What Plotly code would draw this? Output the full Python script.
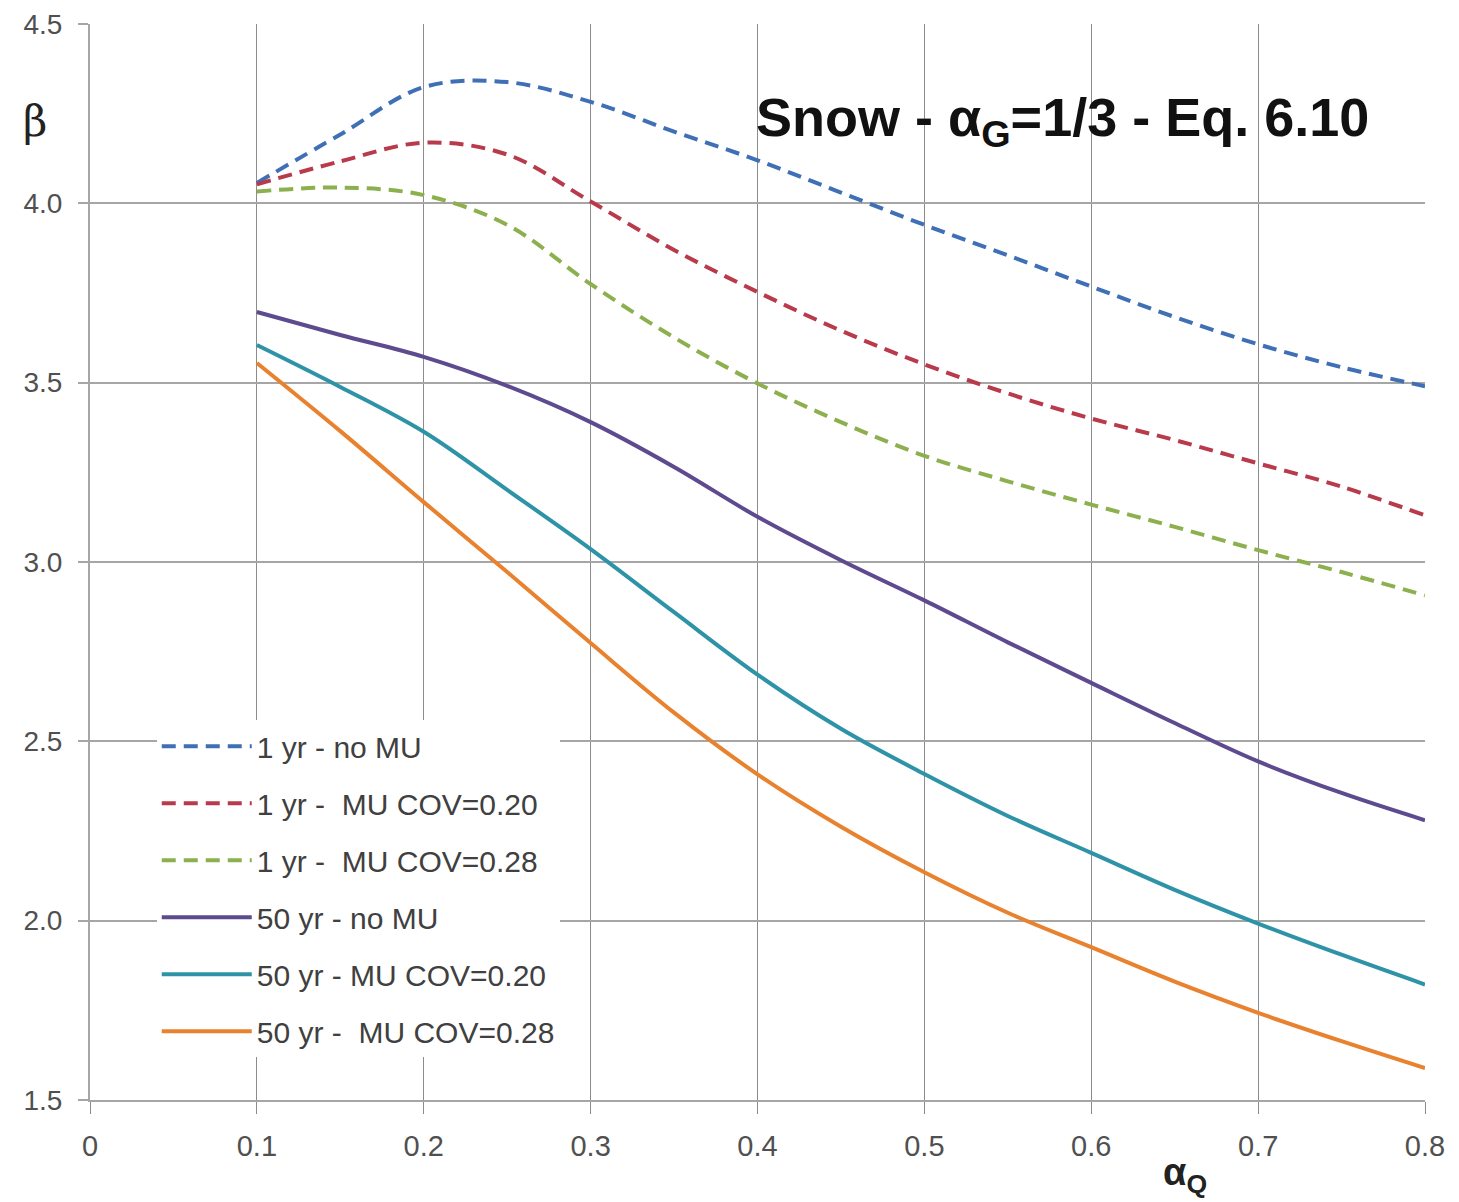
import plotly.graph_objects as go

alpha_q = [0.1, 0.15, 0.2, 0.25, 0.3, 0.35, 0.4, 0.45, 0.5, 0.55, 0.6, 0.65, 0.7, 0.75, 0.8]

beta_1yr_no_mu = [4.057, 4.192, 4.324, 4.338, 4.283, 4.200, 4.120, 4.030, 3.940, 3.855, 3.768, 3.683, 3.607, 3.543, 3.490]
beta_1yr_mu020 = [4.053, 4.117, 4.169, 4.136, 4.005, 3.870, 3.753, 3.645, 3.551, 3.470, 3.400, 3.340, 3.275, 3.210, 3.130]
beta_1yr_mu028 = [4.033, 4.044, 4.023, 3.940, 3.775, 3.626, 3.498, 3.390, 3.296, 3.225, 3.160, 3.098, 3.033, 2.972, 2.907]
beta_50yr_no_mu = [3.697, 3.633, 3.572, 3.491, 3.390, 3.265, 3.126, 3.005, 2.893, 2.776, 2.663, 2.551, 2.444, 2.356, 2.280]
beta_50yr_mu020 = [3.605, 3.488, 3.363, 3.201, 3.036, 2.860, 2.686, 2.535, 2.409, 2.292, 2.189, 2.086, 1.992, 1.905, 1.822]
beta_50yr_mu028 = [3.555, 3.365, 3.167, 2.972, 2.774, 2.580, 2.408, 2.262, 2.135, 2.022, 1.926, 1.830, 1.743, 1.664, 1.589]

series_names = ["1 yr - no MU", "1 yr -  MU COV=0.20", "1 yr -  MU COV=0.28",
                "50 yr - no MU", "50 yr - MU COV=0.20", "50 yr -  MU COV=0.28"]
series_values = [beta_1yr_no_mu, beta_1yr_mu020, beta_1yr_mu028,
                 beta_50yr_no_mu, beta_50yr_mu020, beta_50yr_mu028]
series_colors = ["#3f6fb5", "#b83a4b", "#8db04f", "#5e4a8e", "#2f93a8", "#e8822e"]
series_dash = ["14px,8px", "14px,8px", "14px,8px", "solid", "solid", "solid"]

x_tick_vals = [0, 0.1, 0.2, 0.3, 0.4, 0.5, 0.6, 0.7, 0.8]
x_tick_text = ["0", "0.1", "0.2", "0.3", "0.4", "0.5", "0.6", "0.7", "0.8"]
y_tick_vals = [1.5, 2.0, 2.5, 3.0, 3.5, 4.0, 4.5]
y_tick_text = ["1.5", "2.0", "2.5", "3.0", "3.5", "4.0", "4.5"]

fig = go.Figure()
for i, (name, vals, col, dash) in enumerate(zip(series_names, series_values, series_colors, series_dash)):
    fig.add_trace(go.Scatter(
        x=alpha_q, y=vals, mode="lines", name=name,
        line=dict(color=col, width=4, dash=dash, shape="spline", smoothing=1.0),
        legendgroup=f"g{i}",
    ))

fig.update_layout(
    width=1459, height=1202,
    margin=dict(l=90, r=34, t=24, b=102),
    paper_bgcolor="white", plot_bgcolor="white",
    font=dict(family="Liberation Sans, Arial, sans-serif", color="#404040"),
    legend=dict(
        x=0.05, y=0.353, xanchor="left", yanchor="top",
        bgcolor="white", borderwidth=0,
        font=dict(size=30, color="#404040", family="Liberation Sans, Arial, sans-serif"),
        tracegroupgap=15, itemwidth=90,
    ),
    xaxis=dict(
        range=[0, 0.8], tickvals=x_tick_vals, ticktext=x_tick_text,
        showgrid=True, gridcolor="#8c8c8c", gridwidth=1,
        ticks="outside", ticklen=12, tickcolor="#8c8c8c", tickwidth=1,
        showline=True, linecolor="#a6a6a6", linewidth=2,
        zeroline=False, ticklabelstandoff=7, automargin=False,
        tickfont=dict(size=29, color="#505050"),
    ),
    yaxis=dict(
        range=[1.5, 4.5], tickvals=y_tick_vals, ticktext=y_tick_text,
        showgrid=True, gridcolor="#a6a6a6", gridwidth=2,
        ticks="outside", ticklen=10, tickcolor="#a6a6a6", tickwidth=2,
        showline=True, linecolor="#a6a6a6", linewidth=2,
        zeroline=False, ticklabelstandoff=10, automargin=False,
        tickfont=dict(size=28, color="#505050"),
    ),
    annotations=[
        dict(text="<b>Snow - α<sub>G</sub>=1/3 - Eq. 6.10</b>", x=0.7285, y=0.91,
             xref="paper", yref="paper", xanchor="center", yanchor="middle", showarrow=False,
             font=dict(size=54, color="#111111", family="Liberation Sans, Arial, sans-serif")),
        dict(text="β", x=-0.041, y=0.909, xref="paper", yref="paper",
             xanchor="center", yanchor="middle", showarrow=False,
             font=dict(size=42, color="#222222", family="DejaVu Serif, serif")),
        dict(text="<b>α<sub>Q</sub></b>", x=0.82, y=-0.07, xref="paper", yref="paper",
             xanchor="center", yanchor="middle", showarrow=False,
             font=dict(size=38, color="#222222", family="Liberation Sans, Arial, sans-serif")),
    ],
)

fig.write_html("out.html")
